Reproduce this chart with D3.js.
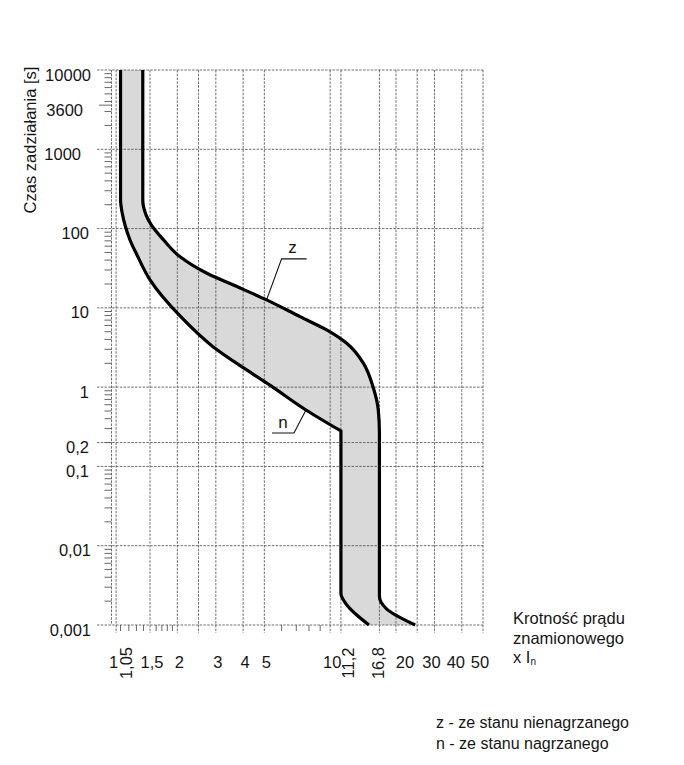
<!DOCTYPE html>
<html>
<head>
<meta charset="utf-8">
<script src="https://cdn.jsdelivr.net/npm/d3@7"></script>
<style>
  body { margin: 0; background: #fff; }
  text { font-family: "Liberation Sans", Arial, sans-serif; fill: #161616; }
</style>
</head>
<body>
<script>
let w = 684;
let h = 765;

// grid + tick values (x: krotność prądu, y: czas zadziałania [s])
let xGrid = [1.05, 1.5, 2, 2.5, 3, 4, 5, 10, 11.2, 16.8, 20, 25, 30, 40, 50];
let xMinor = [1.1, 1.2, 1.3, 1.4, 1.6, 1.7, 1.8, 1.9, 6, 7, 8, 9];
let xLabels = [1, 1.5, 2, 3, 4, 5, 10, 20, 30, 40, 50];
let xLabelsRot = [1.05, 11.2, 16.8];
let yGrid = [10000, 1000, 100, 10, 1, 0.2, 0.1, 0.01, 0.001];
let yLabels = [10000, 3600, 1000, 100, 10, 1, 0.2, 0.1, 0.01, 0.001];

// curve n - ze stanu nagrzanego (smooth part up to the kink, then the part below it)
let nX = [1.1, 1.1, 1.1, 1.117, 1.153, 1.215, 1.308, 1.5, 2.057, 2.91, 4.15, 5.3, 7.75, 11.2];
let nY = [10000, 1000, 229, 162, 111, 71.8, 46.4, 22.5, 7.9, 3.24, 1.65, 1.06, 0.515, 0.28];
let nX2 = [11.2, 11.2, 11.9, 15.05];
let nY2 = [0.28, 0.0025, 0.0018, 0.001];

// curve z - ze stanu nienagrzanego
let zX = [1.39, 1.39, 1.39, 1.44, 1.52, 1.73, 2.06, 2.73, 3.61, 5.12, 7.28, 9.64, 11.9, 14.2, 15.7, 16.6, 16.8, 16.8, 18.1, 24.5];
let zY = [10000, 1000, 229, 148, 111, 72, 44, 27.3, 19.4, 12.6, 7.74, 5.26, 3.57, 2.0, 1.01, 0.515, 0.264, 0.0023, 0.0016, 0.001];

// hand placement of some labels in the original (px)
let xLabelNudge = { 1.05: 10, 11.2: 7, 16.8: -1, 20: 7, 30: -5, 40: -8, 50: -5 };
let yLabelNudge = { 10000: 2, 3600: -6, 1000: -8, 0.01: 2, 0.001: 2 };

let fmt = (d) => String(d).replace('.', ',');
let zip = (xs, ys) => xs.map((x, i) => [x, ys[i]]);

let nPts = zip(nX, nY);
let nPts2 = zip(nX2, nY2);
let zPts = zip(zX, zY);

let xScale = d3.scaleLog()
  .domain([1, 50])
  .range([111.5, 483]);

let yScale = d3.scaleLog()
  .domain([0.001, 10000])
  .range([625, 70]);

let svg = d3.select('body')
  .append('svg')
  .attr('width', w)
  .attr('height', h);

svg.append('rect')
  .attr('width', w)
  .attr('height', h)
  .attr('fill', '#fff');

let line = d3.line()
  .x((d) => { return xScale(d[0]); })
  .y((d) => { return yScale(d[1]); })
  .curve(d3.curveMonotoneY);

let nPath = line(nPts) + line(nPts2).replace('M', 'L');
let zPath = line(zPts);
let bandPath = nPath + line(zPts.slice().reverse()).replace('M', 'L') + 'Z';

// shaded band between the two curves
svg.append('path')
  .attr('d', bandPath)
  .attr('fill', '#d9d9d9')
  .attr('stroke', 'none');

// grid
let grid = svg.append('g')
  .attr('stroke', '#5e5e5e')
  .attr('stroke-width', 0.9)
  .attr('stroke-dasharray', '2.5,1.3')
  .attr('fill', 'none');

grid.selectAll('line.h')
  .data(yGrid)
  .enter()
  .append('line')
  .attr('class', 'h')
  .attr('x1', 97)
  .attr('x2', xScale(50))
  .attr('y1', (d) => { return yScale(d); })
  .attr('y2', (d) => { return yScale(d); });

grid.selectAll('line.v')
  .data(xGrid)
  .enter()
  .append('line')
  .attr('class', 'v')
  .attr('x1', (d) => { return xScale(d); })
  .attr('x2', (d) => { return xScale(d); })
  .attr('y1', yScale(10000))
  .attr('y2', yScale(0.001) + 8);

// y axis line with minor ticks
grid.append('line')
  .attr('x1', xScale(1))
  .attr('x2', xScale(1))
  .attr('y1', yScale(10000))
  .attr('y2', yScale(0.001));

let yMinor = [];
for (let e = -3; e < 4; e++) {
  for (let m = 2; m < 10; m++) {
    yMinor.push(m * Math.pow(10, e));
  }
}

let ticks = svg.append('g')
  .attr('stroke', '#555')
  .attr('stroke-width', 0.9);

ticks.selectAll('line.ym')
  .data(yMinor)
  .enter()
  .append('line')
  .attr('class', 'ym')
  .attr('x1', xScale(1) - 7)
  .attr('x2', xScale(1))
  .attr('y1', (d) => { return yScale(d); })
  .attr('y2', (d) => { return yScale(d); });

ticks.append('line')
  .attr('x1', 99)
  .attr('x2', xScale(1))
  .attr('y1', yScale(3600))
  .attr('y2', yScale(3600));

ticks.selectAll('line.xm')
  .data(xMinor)
  .enter()
  .append('line')
  .attr('class', 'xm')
  .attr('x1', (d) => { return xScale(d); })
  .attr('x2', (d) => { return xScale(d); })
  .attr('y1', yScale(0.001))
  .attr('y2', yScale(0.001) + 6);

// curves
svg.append('path')
  .attr('d', nPath)
  .attr('fill', 'none')
  .attr('stroke', '#000')
  .attr('stroke-width', 3.2);

svg.append('path')
  .attr('d', zPath)
  .attr('fill', 'none')
  .attr('stroke', '#000')
  .attr('stroke-width', 3.2);

// curve labels with leaders
let zAt = [xScale(zX[9]), yScale(zY[9])];
let nAt = [xScale(nX[12]), yScale(nY[12])];

svg.append('path')
  .attr('d', 'M' + zAt[0] + ',' + zAt[1] + 'L' + (zAt[0] + 15) + ',' + (zAt[1] - 41) + 'h25')
  .attr('fill', 'none')
  .attr('stroke', '#111')
  .attr('stroke-width', 1.1);

svg.append('text')
  .attr('x', zAt[0] + 26)
  .attr('y', zAt[1] - 47)
  .attr('text-anchor', 'middle')
  .attr('font-size', 17)
  .text('z');

svg.append('path')
  .attr('d', 'M' + nAt[0] + ',' + nAt[1] + 'L' + (nAt[0] - 12) + ',' + (nAt[1] + 23) + 'h-22')
  .attr('fill', 'none')
  .attr('stroke', '#111')
  .attr('stroke-width', 1.1);

svg.append('text')
  .attr('x', nAt[0] - 23)
  .attr('y', nAt[1] + 18)
  .attr('text-anchor', 'middle')
  .attr('font-size', 17)
  .text('n');

// y tick labels
svg.append('g')
  .selectAll('text')
  .data(yLabels)
  .enter()
  .append('text')
  .attr('x', (d) => { return 89 + (yLabelNudge[d] || 0); })
  .attr('y', (d) => { return yScale(d) + 10.5; })
  .attr('text-anchor', 'end')
  .attr('font-size', 16.5)
  .text(fmt);

// x tick labels
svg.append('g')
  .selectAll('text')
  .data(xLabels)
  .enter()
  .append('text')
  .attr('x', (d) => { return xScale(d) + 2 + (xLabelNudge[d] || 0); })
  .attr('y', 668)
  .attr('text-anchor', 'middle')
  .attr('font-size', 16.5)
  .text(fmt);

svg.append('g')
  .selectAll('text')
  .data(xLabelsRot)
  .enter()
  .append('text')
  .attr('transform', (d) => { return 'translate(' + (xScale(d) + (xLabelNudge[d] || 0)) + ',663) rotate(-90)'; })
  .attr('text-anchor', 'middle')
  .attr('dominant-baseline', 'central')
  .attr('font-size', 16.5)
  .text(fmt);

// axis titles
svg.append('text')
  .attr('transform', 'translate(36,140) rotate(-90)')
  .attr('text-anchor', 'middle')
  .attr('font-size', 16.5)
  .text('Czas zadziałania [s]');

let xTitle = svg.append('text')
  .attr('x', 513)
  .attr('font-size', 16.5);

xTitle.append('tspan').attr('x', 513).attr('y', 624).text('Krotność prądu');
xTitle.append('tspan').attr('x', 513).attr('y', 643.5).text('znamionowego');
xTitle.append('tspan').attr('x', 513).attr('y', 663).text('x I');
xTitle.append('tspan').attr('dy', 2).attr('font-size', 10).text('n');

// legend
svg.append('text')
  .attr('x', 436)
  .attr('y', 728)
  .attr('font-size', 16)
  .text('z - ze stanu nienagrzanego');

svg.append('text')
  .attr('x', 436)
  .attr('y', 749)
  .attr('font-size', 16)
  .text('n - ze stanu nagrzanego');
</script>
</body>
</html>
